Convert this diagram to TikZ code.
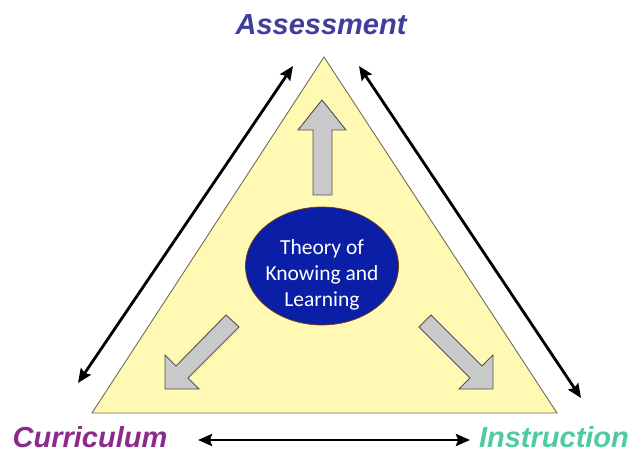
\documentclass[tikz,border=0pt]{standalone}
\usepackage{fontspec}
\setmainfont{Liberation Sans}
\newfontfamily\calib{Carlito}
\usetikzlibrary{arrows.meta,shapes.geometric}
\definecolor{triyellow}{HTML}{FFF9B3}
\definecolor{triedge}{HTML}{6E6E5A}
\definecolor{ellblue}{HTML}{0A1FA6}
\definecolor{elledge}{HTML}{7A3A10}
\definecolor{arrgray}{HTML}{C9C9C9}
\definecolor{arredge}{HTML}{505050}
\definecolor{assesscol}{HTML}{3E3E9C}
\definecolor{currcol}{HTML}{8A2A8C}
\definecolor{instcol}{HTML}{4FCBA2}
\tikzset{
  label/.style={font=\fontsize{29bp}{32bp}\selectfont\bfseries\itshape, inner sep=0pt, anchor=base},
  dblarrow/.style={line width=2.8bp, {Stealth[length=14bp,width=12bp,inset=2bp]}-{Stealth[length=14bp,width=12bp,inset=2bp]}},
  blockarrow/.style={fill=arrgray, draw=arredge, line width=0.9bp, line join=miter},
}
\begin{document}
\begin{tikzpicture}[x=1bp,y=-1bp]
\useasboundingbox[fill=white] (0,0) rectangle (633,453);
% triangle
\draw[fill=triyellow, draw=triedge, line width=0.9bp] (324,57) -- (557,413) -- (92,413) -- cycle;
% block arrows
\draw[blockarrow] (313,195) -- (313,130) -- (298,130) -- (322,100) -- (346,130) -- (332,130) -- (332,195) -- cycle;
\draw[blockarrow] (226,315) -- (239,327) -- (188,378) -- (199,389) -- (165,389) -- (165,355) -- (176,366) -- cycle;
\draw[blockarrow] (431,315) -- (482,366) -- (493,355) -- (493,389) -- (459,389) -- (470,378) -- (419,327) -- cycle;
% ellipse
\node[ellipse, minimum width=153bp, minimum height=118bp, fill=ellblue, draw=elledge, line width=0.7bp, inner sep=0pt] (theory) at (322,266) {};
\node[text=white, align=center, inner sep=0pt, font=\calib\fontsize{21.5bp}{26bp}\selectfont] (theorytext) at (322,275) {Theory of\\Knowing and\\Learning};
% labels
\node[label, text=assesscol] (assess) at (321,35) {Assessment};
\node[label, text=currcol] (curr) at (90,447) {Curriculum};
\node[label, text=instcol] (inst) at (554,447) {Instruction};
% double arrows
\coordinate (la) at (293,66);
\coordinate (lb) at (78,383);
\coordinate (ra) at (359,66);
\coordinate (rb) at (581,398);
\coordinate (ba) at (198,440);
\coordinate (bb) at (470,440);
\draw[dblarrow] (la) -- (lb);
\draw[dblarrow] (ra) -- (rb);
\draw[dblarrow] (ba) -- (bb);
\end{tikzpicture}
\end{document}
